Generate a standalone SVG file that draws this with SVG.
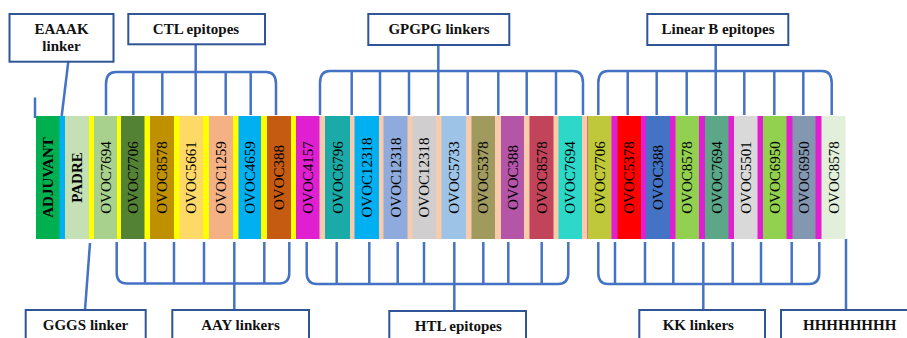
<svg xmlns="http://www.w3.org/2000/svg" width="907" height="338" viewBox="0 0 907 338">
<style>
.bx{fill:#fff;stroke:#2F5597;stroke-width:2}
.lb{font-family:"Liberation Serif",serif;font-weight:bold;font-size:15px;fill:#111;text-anchor:middle}
.sg{font-family:"Liberation Serif",serif;font-size:15px;fill:#000;text-anchor:middle}
.b{font-weight:bold}
.cn path,.cn line{fill:none;stroke:#4472C4;stroke-width:2.5}
</style>
<rect width="907" height="338" fill="#fff"/>
<g id="bar">
<rect x="59" y="116" width="6.5" height="123" fill="#00B0F0"/>
<rect x="88.5" y="116" width="208" height="123" fill="#FFFF00"/>
<rect x="296" y="116" width="292" height="123" fill="#F8CBAD"/>
<rect x="587" y="116" width="235" height="123" fill="#E020D0"/>
</g>
<g id="n-adjuvant"><rect x="36" y="116" width="23.5" height="123" fill="#00B050"/><text class="sg b" transform="translate(47.8,177.5) rotate(-90)" dy="0.35em">ADJUVANT</text></g>
<g id="n-padre"><rect x="65" y="116" width="24" height="123" fill="#C5E0B4"/><text class="sg b" transform="translate(77,177.5) rotate(-90)" dy="0.35em">PADRE</text></g>
<g id="n-ctl1"><rect x="94" y="116" width="23" height="123" fill="#A9D18E"/><text class="sg" transform="translate(105.5,177.5) rotate(-90)" dy="0.35em">OVOC7694</text></g>
<g id="n-ctl2"><rect x="121" y="116" width="23.5" height="123" fill="#548235"/><text class="sg" transform="translate(132.8,177.5) rotate(-90)" dy="0.35em">OVOC7706</text></g>
<g id="n-ctl3"><rect x="150" y="116" width="24" height="123" fill="#BF9000"/><text class="sg" transform="translate(162,177.5) rotate(-90)" dy="0.35em">OVOC8578</text></g>
<g id="n-ctl4"><rect x="179.5" y="116" width="23.5" height="123" fill="#FFD966"/><text class="sg" transform="translate(191.2,177.5) rotate(-90)" dy="0.35em">OVOC5661</text></g>
<g id="n-ctl5"><rect x="209" y="116" width="24" height="123" fill="#F4B183"/><text class="sg" transform="translate(221,177.5) rotate(-90)" dy="0.35em">OVOC1259</text></g>
<g id="n-ctl6"><rect x="238.5" y="116" width="22.5" height="123" fill="#00B0F0"/><text class="sg" transform="translate(249.8,177.5) rotate(-90)" dy="0.35em">OVOC4659</text></g>
<g id="n-ctl7"><rect x="267" y="116" width="24" height="123" fill="#C55A11"/><text class="sg" transform="translate(279,177.5) rotate(-90)" dy="0.35em">OVOC388</text></g>
<g id="n-htl1"><rect x="296" y="116" width="23.5" height="123" fill="#E020D0"/><text class="sg" transform="translate(307.8,177.5) rotate(-90)" dy="0.35em">OVOC4157</text></g>
<g id="n-htl2"><rect x="325" y="116" width="25" height="123" fill="#1AABA8"/><text class="sg" transform="translate(337.5,177.5) rotate(-90)" dy="0.35em">OVOC6796</text></g>
<g id="n-htl3"><rect x="354.5" y="116" width="24.5" height="123" fill="#00B0F0"/><text class="sg" transform="translate(366.8,177.5) rotate(-90)" dy="0.35em">OVOC12318</text></g>
<g id="n-htl4"><rect x="383.5" y="116" width="24" height="123" fill="#8FAADC"/><text class="sg" transform="translate(395.5,177.5) rotate(-90)" dy="0.35em">OVOC12318</text></g>
<g id="n-htl5"><rect x="412.5" y="116" width="23.5" height="123" fill="#D0CECE"/><text class="sg" transform="translate(424.2,177.5) rotate(-90)" dy="0.35em">OVOC12318</text></g>
<g id="n-htl6"><rect x="441.5" y="116" width="24.5" height="123" fill="#9DC3E6"/><text class="sg" transform="translate(453.8,177.5) rotate(-90)" dy="0.35em">OVOC5733</text></g>
<g id="n-htl7"><rect x="471.5" y="116" width="23.5" height="123" fill="#A09A5E"/><text class="sg" transform="translate(483.2,177.5) rotate(-90)" dy="0.35em">OVOC5378</text></g>
<g id="n-htl8"><rect x="501" y="116" width="23" height="123" fill="#B455A8"/><text class="sg" transform="translate(512.5,177.5) rotate(-90)" dy="0.35em">OVOC388</text></g>
<g id="n-htl9"><rect x="529.5" y="116" width="24" height="123" fill="#C2445A"/><text class="sg" transform="translate(541.5,177.5) rotate(-90)" dy="0.35em">OVOC8578</text></g>
<g id="n-htl10"><rect x="558.5" y="116" width="23.5" height="123" fill="#2DD8C8"/><text class="sg" transform="translate(570.2,177.5) rotate(-90)" dy="0.35em">OVOC7694</text></g>
<g id="n-b1"><rect x="587.5" y="116" width="24" height="123" fill="#BFC73A"/><text class="sg" transform="translate(599.5,177.5) rotate(-90)" dy="0.35em">OVOC7706</text></g>
<g id="n-b2"><rect x="617.5" y="116" width="23.5" height="123" fill="#FF0000"/><text class="sg" transform="translate(629.2,177.5) rotate(-90)" dy="0.35em">OVOC5378</text></g>
<g id="n-b3"><rect x="646" y="116" width="24" height="123" fill="#4472C4"/><text class="sg" transform="translate(658,177.5) rotate(-90)" dy="0.35em">OVOC388</text></g>
<g id="n-b4"><rect x="675.5" y="116" width="23.5" height="123" fill="#92D050"/><text class="sg" transform="translate(687.2,177.5) rotate(-90)" dy="0.35em">OVOC8578</text></g>
<g id="n-b5"><rect x="705" y="116" width="23.5" height="123" fill="#5BA787"/><text class="sg" transform="translate(716.8,177.5) rotate(-90)" dy="0.35em">OVOC7694</text></g>
<g id="n-b6"><rect x="734" y="116" width="23.5" height="123" fill="#D9D9D9"/><text class="sg" transform="translate(745.8,177.5) rotate(-90)" dy="0.35em">OVOC5501</text></g>
<g id="n-b7"><rect x="763" y="116" width="23.5" height="123" fill="#92D050"/><text class="sg" transform="translate(774.8,177.5) rotate(-90)" dy="0.35em">OVOC6950</text></g>
<g id="n-b8"><rect x="792.5" y="116" width="23" height="123" fill="#8497B0"/><text class="sg" transform="translate(804,177.5) rotate(-90)" dy="0.35em">OVOC6950</text></g>
<g id="n-b9"><rect x="821.5" y="116" width="24" height="123" fill="#E2EFDA"/><text class="sg" transform="translate(833.5,177.5) rotate(-90)" dy="0.35em">OVOC8578</text></g>

<g class="cn" id="connectors">
<line x1="35" y1="97.5" x2="35" y2="118"/>
<line x1="68.3" y1="61.7" x2="61.7" y2="116"/>
<path d="M106,115 L106,84 Q106,72 116,72 L266,72 Q276,72 276,84 L276,115"/>
<line x1="133.3" y1="72" x2="133.3" y2="115"/>
<line x1="162.3" y1="72" x2="162.3" y2="115"/>
<line x1="195.7" y1="44" x2="195.7" y2="115"/>
<line x1="225.7" y1="72" x2="225.7" y2="115"/>
<line x1="250.7" y1="72" x2="250.7" y2="115"/>
<path d="M320,115 L320,83 Q320,71 330,71 L573,71 Q583,71 583,83 L583,115"/>
<line x1="351.7" y1="71" x2="351.7" y2="115"/>
<line x1="380" y1="71" x2="380" y2="115"/>
<line x1="409" y1="71" x2="409" y2="115"/>
<line x1="438.3" y1="45" x2="438.3" y2="115"/>
<line x1="467.7" y1="71" x2="467.7" y2="115"/>
<line x1="498.3" y1="71" x2="498.3" y2="115"/>
<line x1="526.7" y1="71" x2="526.7" y2="115"/>
<line x1="556" y1="71" x2="556" y2="115"/>
<path d="M598.3,115 L598.3,83 Q598.3,71 608,71 L822,71 Q831.7,71 831.7,83 L831.7,115"/>
<line x1="627.7" y1="71" x2="627.7" y2="115"/>
<line x1="656.7" y1="71" x2="656.7" y2="115"/>
<line x1="686.7" y1="71" x2="686.7" y2="115"/>
<line x1="715.7" y1="45" x2="715.7" y2="115"/>
<line x1="744.3" y1="71" x2="744.3" y2="115"/>
<line x1="774.3" y1="71" x2="774.3" y2="115"/>
<line x1="803.3" y1="71" x2="803.3" y2="115"/>
<line x1="90" y1="243" x2="85" y2="310"/>
<path d="M116.7,242 L116.7,273 Q116.7,283.5 127,283.5 L279,283.5 Q289.3,283.5 289.3,273 L289.3,242"/>
<line x1="145" y1="242" x2="145" y2="283.5"/>
<line x1="174" y1="242" x2="174" y2="283.5"/>
<line x1="204" y1="242" x2="204" y2="283.5"/>
<line x1="234.3" y1="242" x2="234.3" y2="310"/>
<line x1="264.3" y1="242" x2="264.3" y2="283.5"/>
<path d="M306.7,242 L306.7,273 Q306.7,284 317,284 L558,284 Q568.3,284 568.3,273 L568.3,242"/>
<line x1="336.7" y1="242" x2="336.7" y2="284"/>
<line x1="369.3" y1="242" x2="369.3" y2="284"/>
<line x1="397.7" y1="242" x2="397.7" y2="284"/>
<line x1="424" y1="242" x2="424" y2="284"/>
<line x1="454.3" y1="242" x2="454.3" y2="311"/>
<line x1="483.3" y1="242" x2="483.3" y2="284"/>
<line x1="508.3" y1="242" x2="508.3" y2="284"/>
<line x1="541.7" y1="242" x2="541.7" y2="284"/>
<path d="M598.3,242 L598.3,273 Q598.3,284 608,284 L809,284 Q819.3,284 819.3,273 L819.3,242"/>
<line x1="615" y1="242" x2="615" y2="284"/>
<line x1="645" y1="242" x2="645" y2="284"/>
<line x1="673.3" y1="242" x2="673.3" y2="284"/>
<line x1="703.3" y1="242" x2="703.3" y2="310"/>
<line x1="732.7" y1="242" x2="732.7" y2="284"/>
<line x1="761" y1="242" x2="761" y2="284"/>
<line x1="791.7" y1="242" x2="791.7" y2="284"/>
<line x1="846" y1="239" x2="846" y2="310"/>
</g>

<g id="n-eaaak"><rect class="bx" x="9.5" y="14" width="104" height="47.7"/><text class="lb" x="61.5" y="34.3">EAAAK</text><text class="lb" x="61.5" y="50.7">linker</text></g>
<g id="n-ctl"><rect class="bx" x="128.3" y="14" width="136.7" height="30.3"/><text class="lb" x="196" y="34.3">CTL epitopes</text></g>
<g id="n-gpgpg"><rect class="bx" x="368.3" y="14" width="141" height="31"/><text class="lb" x="439" y="34.3">GPGPG linkers</text></g>
<g id="n-linb"><rect class="bx" x="647.3" y="14" width="141" height="31"/><text class="lb" x="718" y="34.3">Linear B epitopes</text></g>
<g id="n-gggs"><rect class="bx" x="25.7" y="310" width="120" height="40"/><text class="lb" x="85.5" y="330">GGGS linker</text></g>
<g id="n-aay"><rect class="bx" x="172.3" y="310" width="136.7" height="40"/><text class="lb" x="240.5" y="330">AAY linkers</text></g>
<g id="n-htl"><rect class="bx" x="389.3" y="311" width="136.7" height="40"/><text class="lb" x="458.3" y="331">HTL epitopes</text></g>
<g id="n-kk"><rect class="bx" x="639.3" y="310" width="125.7" height="40"/><text class="lb" x="698.3" y="330">KK linkers</text></g>
<g id="n-his"><rect class="bx" x="781" y="310" width="130" height="40"/><text class="lb" x="849.7" y="330">HHHHHHHH</text></g>
</svg>
